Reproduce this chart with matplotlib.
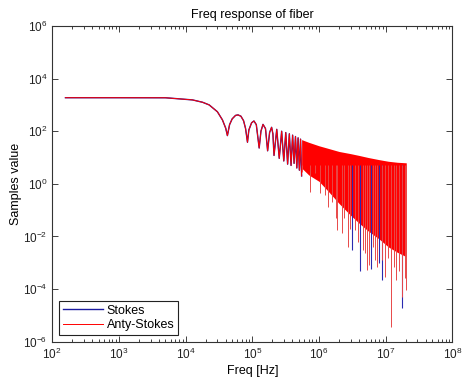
import numpy as np
import matplotlib
matplotlib.use('Agg')
import matplotlib.pyplot as plt

plt.rcParams['font.family'] = ['Liberation Sans', 'DejaVu Sans']
plt.rcParams['mathtext.default'] = 'regular'

# smooth part + resolvable lobes (Hz, sample value)
freq = [158, 1000, 5000, 1.27e4, 1.8e4, 2.26e4, 3.0e4, 3.57e4, 4.0e4, 4.24e4,
        4.57e4, 5.0e4, 5.62e4, 6.12e4, 6.76e4, 7.41e4, 7.94e4, 8.48e4,
        8.9e4, 9.77e4, 1.06e5, 1.15e5, 1.27e5,
        1.35e5, 1.45e5, 1.58e5, 1.70e5,
        1.82e5, 1.95e5, 2.04e5, 2.12e5,
        2.33e5, 2.54e5, 2.76e5, 2.97e5, 3.18e5, 3.39e5, 3.6e5, 3.82e5,
        4.03e5, 4.24e5, 4.45e5, 4.66e5, 4.87e5, 5.09e5, 5.3e5, 5.5e5]
value = [1880, 1880, 1870, 1550, 1260, 1000, 550, 270, 130, 68,
         178, 295, 400, 417, 372, 251, 126, 38,
         112, 209, 245, 178, 23,
         100, 182, 126, 18,
         89, 141, 80, 12,
         118, 9.3, 100, 7.4, 89, 5.6, 80, 5.0,
         71, 6.0, 63, 4.0, 56, 3.3, 50, 2.0]

# dense oscillation band above ~5.5e5 Hz
band_freq = [5.5e5, 7e5, 1e6, 1.4e6, 2e6, 3e6, 4e6, 5.5e6, 8e6, 1.1e7, 1.5e7, 2.04e7]
band_top = [48, 38, 28, 22, 17, 14, 12, 10, 8.3, 7.2, 6.6, 6.3]
band_bottom = [4.0, 2.2, 1.25, 0.5, 0.18, 0.063, 0.032, 0.016, 0.008, 0.004, 0.0025, 0.0017]

# deep notches (Hz, minimum value)
red_dip_freq = [5.6e5, 7.4e5, 8.7e5, 1.02e6, 1.22e6, 1.35e6, 1.58e6, 1.78e6, 1.86e6,
                2.19e6, 2.4e6, 2.69e6, 2.95e6, 3.47e6, 3.8e6, 4.57e6, 4.9e6, 5.25e6,
                5.62e6, 6.46e6, 6.9e6, 7.4e6, 8.7e6, 9.8e6, 1.07e7, 1.2e7, 1.32e7,
                1.45e7, 1.58e7, 1.74e7, 1.95e7, 2.0e7]
red_dip_value = [2.9, 0.5, 2.5, 0.46, 0.37, 0.13, 0.2, 0.049, 0.017,
                 0.013, 0.05, 0.0041, 0.02, 0.017, 0.006, 0.003, 0.0023, 0.00052,
                 0.00081, 0.004, 0.0013, 0.0007, 0.0013, 0.0003, 0.0015, 3.7e-6, 0.0007,
                 2.2e-4, 5e-4, 5.1e-5, 2.6e-4, 9.1e-5]
blue_dip_freq = [3.16e6, 4.17e6, 6.0e6, 7.9e6, 8.7e6, 1.78e7]
blue_dip_value = [0.003, 5e-4, 6e-4, 0.001, 2.2e-4, 1.9e-5]

x_ticks = [1e2, 1e3, 1e4, 1e5, 1e6, 1e7, 1e8]
y_ticks = [1e-6, 1e-4, 1e-2, 1e0, 1e2, 1e4, 1e6]

fig = plt.figure(figsize=(4.62, 3.85), dpi=100)
ax = fig.add_axes([0.113, 0.1125, 0.866, 0.820])

ax.plot(freq, value, color='#1a1aa0', lw=1.0, label='Stokes')
ax.vlines(blue_dip_freq, blue_dip_value, 5, color='#2a2ab0', lw=0.8)
ax.plot(freq, value, color='red', lw=0.7, label='Anty-Stokes')
ax.fill_between(band_freq, band_bottom, band_top, color='red', lw=0)
ax.vlines(red_dip_freq, red_dip_value, 5, color='#e84848', lw=0.7)

ax.set_xscale('log')
ax.set_yscale('log')
ax.set_xlim(1e2, 1e8)
ax.set_ylim(1e-6, 1e6)
ax.set_xticks(x_ticks)
ax.set_yticks(y_ticks)
ax.yaxis.set_minor_locator(matplotlib.ticker.NullLocator())
ax.tick_params(which='both', direction='in', top=True, right=True,
               labelsize=8.5, colors='#222222')
ax.tick_params(which='major', length=4, width=0.6)
ax.tick_params(which='minor', length=2, width=0.6)
for s in ax.spines.values():
    s.set_linewidth(0.8)
    s.set_color('#333333')

ax.set_xlabel('Freq [Hz]', fontsize=9, labelpad=2)
ax.set_ylabel('Samples value', fontsize=9, labelpad=1)
ax.set_title('Freq response of fiber', fontsize=9, pad=6)

leg = ax.legend(loc='lower left', fontsize=9, fancybox=False, framealpha=1,
                edgecolor='#222222', borderaxespad=0.55, handlelength=3.2,
                handletextpad=0.3, borderpad=0.3, labelspacing=0.2)
leg.get_frame().set_linewidth(0.8)

plt.savefig('out.png', dpi=100)
